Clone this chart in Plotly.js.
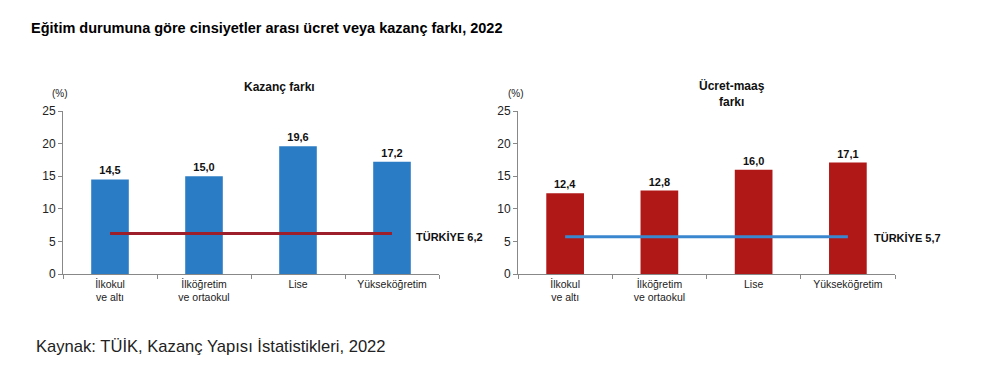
<!DOCTYPE html>
<html>
<head>
<meta charset="utf-8">
<script src="https://cdn.plot.ly/plotly-3.0.1.min.js"></script>
<style>html,body{margin:0;padding:0;background:#fff;}#chart{width:984px;height:378px;}</style>
</head>
<body>
<div id="chart"></div>
<script>
const categories = ["İlkokul<br>ve altı", "İlköğretim<br>ve ortaokul", "Lise", "Yükseköğretim"];
const kazancFarki = [14.5, 15.0, 19.6, 17.2];
const ucretMaasFarki = [12.4, 12.8, 16.0, 17.1];
const turkiyeKazanc = 6.2;
const turkiyeUcret = 5.7;
const yTicks = [0, 5, 10, 15, 20, 25];

const W = 984, H = 378;
const px = x => x / W;
const py = y => 1 - y / H;

const barFont = {family: "Liberation Sans, Arial, sans-serif", size: 11, color: "#111"};

const traces = [
  {type: "bar", x: categories, y: kazancFarki, xaxis: "x", yaxis: "y",
   marker: {color: "#2a7cc4"}, texttemplate: "<b>%{y:.1f}</b>", textposition: "outside",
   textfont: barFont, cliponaxis: false, hoverinfo: "none"},
  {type: "scatter", mode: "lines", x: [categories[0], categories[3]], y: [turkiyeKazanc, turkiyeKazanc],
   xaxis: "x", yaxis: "y", line: {color: "#9e1f2c", width: 3}, hoverinfo: "none"},
  {type: "bar", x: categories, y: ucretMaasFarki, xaxis: "x2", yaxis: "y2",
   marker: {color: "#b01818"}, texttemplate: "<b>%{y:.1f}</b>", textposition: "outside",
   textfont: barFont, cliponaxis: false, hoverinfo: "none"},
  {type: "scatter", mode: "lines", x: [categories[0], categories[3]], y: [turkiyeUcret, turkiyeUcret],
   xaxis: "x2", yaxis: "y2", line: {color: "#3a87cf", width: 3}, hoverinfo: "none"}
];

const tickFont = {family: "Liberation Sans, Arial, sans-serif", size: 10.5, color: "#222"};
const yTickFont = {family: "Liberation Sans, Arial, sans-serif", size: 12, color: "#222"};

function xAxis(d) {
  return {domain: d, type: "category", showline: true, linecolor: "#888", linewidth: 1,
    ticks: "outside", tickson: "boundaries", ticklen: 4, tickcolor: "#888",
    tickfont: tickFont, showgrid: false, zeroline: false, fixedrange: true};
}
function yAxis(anchor) {
  return {domain: [py(274), py(111)], range: [0, 25], tickvals: yTicks, anchor: anchor,
    showline: true, linecolor: "#888", linewidth: 1, ticks: "outside", ticklen: 4, tickcolor: "#888",
    tickfont: yTickFont, showgrid: false, zeroline: false, fixedrange: true};
}

const layout = {
  width: W, height: H,
  margin: {l: 0, r: 0, t: 0, b: 0},
  paper_bgcolor: "#fff", plot_bgcolor: "#fff",
  showlegend: false,
  separators: ", ",
  bargap: 0.6,
  xaxis: xAxis([px(63), px(439)]),
  yaxis: yAxis("x"),
  xaxis2: xAxis([px(518), px(895)]),
  yaxis2: yAxis("x2"),
  font: {family: "Liberation Sans, Arial, sans-serif"},
  annotations: [
    {text: "<b>Eğitim durumuna göre cinsiyetler arası ücret veya kazanç farkı, 2022</b>",
     xref: "paper", yref: "paper", x: px(29), y: py(28), xanchor: "left", yanchor: "middle",
     showarrow: false, font: {size: 14.5, color: "#000"}},
    {text: "<b>Kazanç farkı</b>", xref: "paper", yref: "paper", x: px(279), y: py(87),
     xanchor: "center", yanchor: "middle", showarrow: false, font: {size: 12, color: "#111"}},
    {text: "<b>Ücret-maaş<br>farkı</b>", xref: "paper", yref: "paper", x: px(732), y: py(94),
     xanchor: "center", yanchor: "middle", showarrow: false, font: {size: 12, color: "#111"}},
    {text: "(%)", xref: "paper", yref: "paper", x: px(60), y: py(94),
     xanchor: "center", yanchor: "middle", showarrow: false, font: {size: 10, color: "#222"}},
    {text: "(%)", xref: "paper", yref: "paper", x: px(516), y: py(94),
     xanchor: "center", yanchor: "middle", showarrow: false, font: {size: 10, color: "#222"}},
    {text: "<b>TÜRKİYE 6,2</b>", xref: "paper", yref: "paper", x: px(414), y: py(237),
     xanchor: "left", yanchor: "middle", showarrow: false, font: {size: 11, color: "#111"}},
    {text: "<b>TÜRKİYE 5,7</b>", xref: "paper", yref: "paper", x: px(872), y: py(238),
     xanchor: "left", yanchor: "middle", showarrow: false, font: {size: 11, color: "#111"}},
    {text: "Kaynak: TÜİK, Kazanç Yapısı İstatistikleri, 2022", xref: "paper", yref: "paper",
     x: px(34), y: py(346), xanchor: "left", yanchor: "middle", showarrow: false,
     font: {size: 16.6, color: "#222"}}
  ]
};

Plotly.newPlot("chart", traces, layout, {displayModeBar: false, staticPlot: true});
</script>
</body>
</html>
